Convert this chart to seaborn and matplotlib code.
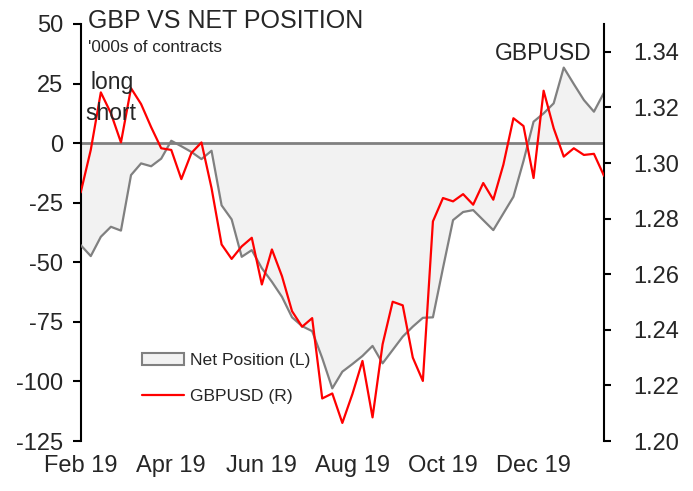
import numpy as np
import pandas as pd
import matplotlib
matplotlib.use("Agg")
import matplotlib.pyplot as plt
import seaborn as sns
from matplotlib.patches import Patch
from matplotlib.lines import Line2D

# ---- data (weekly) ----
start_date = "2019-02-05"
n_weeks = 53

net_position = [-42.8, -47.4, -39.3, -35.1, -36.7, -13.4, -8.5, -9.7, -6.5, 1.0,
                -1.3, -3.7, -6.7, -3.2, -26.1, -32.0, -47.7, -44.9, -52.5, -58.2,
                -64.5, -73.1, -76.8, -78.9, -90.2, -102.9, -95.9, -92.7, -89.3, -85.1,
                -92.4, -86.8, -81.2, -77.0, -73.3, -73.1, -52.4, -32.3, -28.9, -28.1,
                -32.3, -36.5, -29.5, -22.5, -7.5, 9.0, 12.5, 16.7, 31.7, 24.8,
                18.1, 13.2, 21.2]

gbpusd = [1.2894, 1.3047, 1.3254, 1.3179, 1.3074, 1.3269, 1.3212, 1.3129, 1.3053, 1.3047,
          1.2942, 1.3036, 1.3074, 1.2910, 1.2707, 1.2655, 1.2700, 1.2731, 1.2563, 1.2689,
          1.2593, 1.2467, 1.2411, 1.2442, 1.2153, 1.2171, 1.2065, 1.2169, 1.2288, 1.2085,
          1.2348, 1.2501, 1.2488, 1.2300, 1.2216, 1.2790, 1.2874, 1.2862, 1.2888, 1.2850,
          1.2928, 1.2868, 1.2994, 1.3161, 1.3133, 1.2946, 1.3260, 1.3125, 1.3023, 1.3053,
          1.3029, 1.3033, 1.2954]

x_tick_labels = ["Feb 19", "Apr 19", "Jun 19", "Aug 19", "Oct 19", "Dec 19"]
left_ticks = [-125, -100, -75, -50, -25, 0, 25, 50]
right_ticks = [1.20, 1.22, 1.24, 1.26, 1.28, 1.30, 1.32, 1.34]
right_tick_labels = ["1.20", "1.22", "1.24", "1.26", "1.28", "1.30", "1.32", "1.34"]

dates = pd.date_range(start_date, periods=n_weeks, freq="7D")
df = pd.DataFrame({"date": dates, "net": net_position, "gbpusd": gbpusd})

# ---- style ----
sns.set_style("white")
plt.rcParams["font.family"] = ["Liberation Sans", "DejaVu Sans"]
plt.rcParams["axes.unicode_minus"] = False

W, H = 693, 491
fig = plt.figure(figsize=(W / 100, H / 100), dpi=100)
ax = fig.add_axes([80.7 / W, 1 - 441 / H, (604 - 80.7) / W, (441 - 24) / H])
ax.patch.set_alpha(0)

GRAY = "#808080"
FILL = "#f2f2f2"
RED = "#ff0000"

# fill + net position line
ax.fill_between(df["date"], df["net"], 0, color=FILL, linewidth=0, zorder=1)
ax.axhline(0, color=GRAY, lw=2.0, zorder=2)
sns.lineplot(data=df, x="date", y="net", ax=ax, color=GRAY, lw=1.6, zorder=3)

ax.set_ylim(-125, 50)
ax.set_xlim(dates[0], dates[-1])
ax.set_yticks(left_ticks)
ax.set_yticklabels([str(t) for t in left_ticks])
ax.set_xticks(dates[::9])
ax.set_xticklabels(x_tick_labels)
ax.set_xlabel("")
ax.set_ylabel("")

for s in ["top", "right", "bottom"]:
    ax.spines[s].set_visible(False)
ax.spines["left"].set_color("black")
ax.spines["left"].set_linewidth(1.5)
ax.tick_params(axis="y", direction="out", length=5.5, width=1.5, color="black",
               labelsize=17, pad=7, left=True)
ax.tick_params(axis="x", length=0, labelsize=17, pad=10)

# right axis GBPUSD
ax2 = ax.twinx()
sns.lineplot(data=df, x="date", y="gbpusd", ax=ax2, color=RED, lw=1.6, zorder=4)
ax2.set_ylim(1.20, 1.35)
ax2.set_yticks(right_ticks)
ax2.set_yticklabels(right_tick_labels)
ax2.set_xlim(dates[0], dates[-1])
ax2.set_ylabel("")
ax2.set_xlabel("")
for s in ["top", "left", "bottom"]:
    ax2.spines[s].set_visible(False)
ax2.spines["right"].set_color("black")
ax2.spines["right"].set_linewidth(1.5)
ax2.tick_params(axis="y", direction="out", length=5, width=1.5, color="black",
                labelsize=17, pad=16, right=True)

# legend
handles = [Patch(facecolor=FILL, edgecolor=GRAY, linewidth=1.5),
           Line2D([0], [0], color=RED, lw=1.6)]
ax2.legend(handles, ["Net Position (L)", "GBPUSD (R)"], loc="center left",
           bbox_to_anchor=((141.5 - 80.7) / (604 - 80.7), (441 - 378.5) / (441 - 24)),
           frameon=False, fontsize=12.6, handlelength=2.4, handletextpad=0.4,
           labelspacing=1.15, borderpad=0, borderaxespad=0)

# texts
def ftext(x, y, s, size):
    fig.text(x / W, 1 - y / H, s, fontsize=size, ha="left", va="baseline")

ftext(88, 28.5, "GBP VS NET POSITION", 18)
ftext(88, 52.5, "'000s of contracts", 12.3)
ftext(90.5, 88.5, "long", 16.5)
ftext(85.5, 119.5, "short", 16.5)
ftext(495, 59.5, "GBPUSD", 16.5)

fig.savefig("out.png", dpi=100)
